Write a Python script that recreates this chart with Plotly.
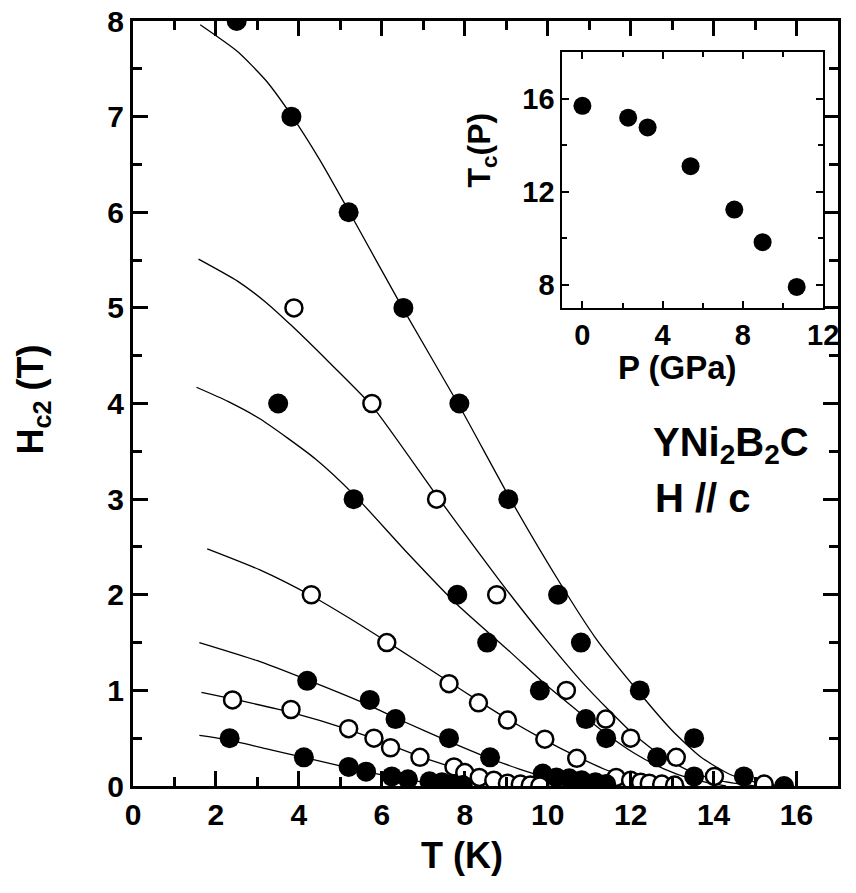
import plotly.graph_objects as go

# ---------------- data ----------------
T1 = [2.5, 3.82, 5.2, 6.52, 7.87, 9.05, 10.25, 10.8, 12.22, 13.53, 14.73, 15.7]
H1 = [8.0, 7.0, 6.0, 5.0, 4.0, 3.0, 2.0, 1.5, 1.0, 0.5, 0.1, 0.0]

T2 = [3.88, 5.76, 7.32, 8.77, 10.45, 11.4, 12.0, 13.1, 14.02, 15.22]
H2 = [5.0, 4.0, 3.0, 2.0, 1.0, 0.7, 0.5, 0.3, 0.1, 0.02]

T3 = [3.5, 5.32, 7.82, 8.54, 9.81, 10.92, 11.41, 12.64, 13.53]
H3 = [4.0, 3.0, 2.0, 1.5, 1.0, 0.7, 0.5, 0.3, 0.1]

T4 = [4.3, 6.12, 7.62, 8.33, 9.03, 9.93, 10.7, 11.65, 12.0, 12.24, 12.45, 12.75, 13.06]
H4 = [2.0, 1.5, 1.07, 0.87, 0.69, 0.49, 0.29, 0.09, 0.06, 0.04, 0.03, 0.02, 0.01]

T5 = [4.2, 5.71, 6.33, 7.62, 8.61, 9.88, 10.21, 10.52, 10.82, 11.15, 11.41]
H5 = [1.1, 0.9, 0.7, 0.5, 0.3, 0.13, 0.09, 0.08, 0.06, 0.04, 0.02]

T6 = [2.4, 3.81, 5.2, 5.81, 6.21, 6.92, 7.74, 8.0, 8.35, 8.7, 9.03, 9.34, 9.58, 9.81]
H6 = [0.9, 0.8, 0.6, 0.5, 0.4, 0.3, 0.2, 0.14, 0.09, 0.06, 0.03, 0.02, 0.01, 0.0]

T7 = [2.33, 4.12, 5.2, 5.62, 6.24, 6.63, 7.15, 7.45, 7.7, 7.95]
H7 = [0.5, 0.3, 0.2, 0.15, 0.1, 0.07, 0.05, 0.04, 0.02, 0.01]

# Fit curves
F1_T = [1.62, 2.52, 3.2, 3.81, 4.5, 5.22, 6.5, 7.9, 9.1, 10.3, 11.15, 12.2, 13.0, 13.7, 14.4, 15.0, 15.6]
F1_H = [7.96, 7.68, 7.38, 7.02, 6.55, 6.0, 5.0, 3.95, 3.0, 2.12, 1.55, 0.98, 0.58, 0.3, 0.12, 0.04, 0.0]

F2_T = [1.58, 2.52, 3.2, 3.81, 4.8, 5.79, 7.3, 8.2, 9.1, 9.98, 10.8, 11.46, 12.1, 12.8, 13.5, 14.2, 15.0]
F2_H = [5.51, 5.28, 5.06, 4.82, 4.4, 3.96, 3.05, 2.52, 2.0, 1.52, 1.1, 0.8, 0.53, 0.3, 0.14, 0.05, 0.0]

F3_T = [1.53, 2.3, 3.06, 4.4, 5.32, 6.59, 7.81, 9.1, 9.9, 10.68, 11.4, 12.1, 12.8, 13.5, 14.3]
F3_H = [4.17, 4.02, 3.84, 3.42, 3.05, 2.45, 1.9, 1.4, 1.08, 0.8, 0.55, 0.34, 0.18, 0.07, 0.0]

F4_T = [1.79, 3.06, 4.3, 5.2, 6.12, 7.62, 8.33, 9.03, 9.93, 10.7, 11.4, 12.1, 12.7, 13.3]
F4_H = [2.48, 2.26, 1.99, 1.76, 1.51, 1.09, 0.89, 0.7, 0.48, 0.31, 0.17, 0.07, 0.02, 0.0]

F5_T = [1.6, 3.0, 4.2, 5.5, 6.5, 7.6, 8.6, 9.3, 9.9, 10.5, 11.2]
F5_H = [1.5, 1.31, 1.11, 0.88, 0.68, 0.47, 0.29, 0.18, 0.1, 0.04, 0.0]

F6_T = [1.65, 2.4, 3.81, 5.2, 6.2, 6.92, 7.74, 8.4, 9.0, 9.8]
F6_H = [0.98, 0.91, 0.77, 0.59, 0.43, 0.31, 0.19, 0.1, 0.04, 0.0]

F7_T = [1.6, 2.33, 3.2, 4.12, 5.2, 6.2, 7.0, 7.9]
F7_H = [0.53, 0.48, 0.39, 0.3, 0.19, 0.1, 0.04, 0.0]

# Inset: Tc vs pressure
P_GPa = [0.0, 2.28, 3.25, 5.39, 7.57, 8.98, 10.68]
Tc_P = [15.7, 15.19, 14.77, 13.1, 11.23, 9.83, 7.9]

# ---------------- figure ----------------
FONT = "Liberation Sans"
fig = go.Figure()

fits = [(F1_T, F1_H), (F2_T, F2_H), (F3_T, F3_H), (F4_T, F4_H),
        (F5_T, F5_H), (F6_T, F6_H), (F7_T, F7_H)]
for ft, fh in fits:
    fig.add_trace(go.Scatter(x=ft, y=fh, mode="lines",
                             line=dict(color="black", width=1.3, shape="spline", smoothing=0.6)))

series = [(T1, H1, True), (T2, H2, False), (T3, H3, True), (T4, H4, False),
          (T5, H5, True), (T6, H6, False), (T7, H7, True)]
for t, h, filled in series:
    if filled:
        mk = dict(symbol="circle", size=20, color="black")
    else:
        mk = dict(symbol="circle", size=17, color="white", line=dict(color="black", width=2.5))
    fig.add_trace(go.Scatter(x=t, y=h, mode="markers", marker=mk))

fig.add_trace(go.Scatter(x=P_GPa, y=Tc_P, mode="markers", xaxis="x2", yaxis="y2",
                         marker=dict(symbol="circle", size=18, color="black")))

# empty traces so the minor-tick overlay axes get drawn
fig.add_trace(go.Scatter(x=[], y=[], xaxis="x3", yaxis="y3"))
fig.add_trace(go.Scatter(x=[], y=[], xaxis="x4", yaxis="y4"))

def tf(size):
    return dict(family=FONT, size=size, color="black", weight=700)

fig.update_layout(
    width=856, height=893, showlegend=False,
    margin=dict(l=133, r=2, t=21, b=107),
    paper_bgcolor="white", plot_bgcolor="white",
    # main axes (major ticks, labels)
    xaxis=dict(range=[0, 17], dtick=2, ticks="inside", ticklen=15, tickwidth=3,
               tickcolor="black", showline=True, linewidth=3, linecolor="black",
               mirror="ticks", gridcolor="white", tickfont=tf(30)),
    yaxis=dict(range=[0, 8], dtick=1, ticks="inside", ticklen=15, tickwidth=3,
               tickcolor="black", showline=True, linewidth=3, linecolor="black",
               mirror="ticks", gridcolor="white", tickfont=tf(30)),
    # main axes (minor ticks)
    xaxis3=dict(overlaying="x", anchor="y", range=[0, 17], dtick=1, ticks="inside", ticklen=9,
                tickwidth=3, tickcolor="black", showticklabels=False, mirror="ticks",
                gridcolor="white"),
    yaxis3=dict(overlaying="y", anchor="x", range=[0, 8], dtick=0.5, ticks="inside", ticklen=9,
                tickwidth=3, tickcolor="black", showticklabels=False, mirror="ticks",
                gridcolor="white"),
    # inset axes
    xaxis2=dict(domain=[0.609, 0.979], anchor="y2", range=[-1, 12], tick0=0, dtick=4,
                ticks="inside", ticklen=7, tickwidth=2, tickcolor="black",
                showline=True, linewidth=2, linecolor="black", mirror="ticks",
                gridcolor="white", tickfont=tf(29)),
    yaxis2=dict(domain=[0.625, 0.959], anchor="x2", range=[7, 18], tick0=0, dtick=4,
                ticks="inside", ticklen=7, tickwidth=2, tickcolor="black",
                showline=True, linewidth=2, linecolor="black", mirror="ticks",
                gridcolor="white", tickfont=tf(29)),
    xaxis4=dict(overlaying="x2", anchor="y2", range=[-1, 12], tick0=0, dtick=2,
                ticks="inside", ticklen=5, tickwidth=2, tickcolor="black",
                showticklabels=False, mirror="ticks", gridcolor="white"),
    yaxis4=dict(overlaying="y2", anchor="x2", range=[7, 18], tick0=0, dtick=2,
                ticks="inside", ticklen=5, tickwidth=2, tickcolor="black",
                showticklabels=False, mirror="ticks", gridcolor="white"),
)

def ann(text, x, y, size, angle=0, xanchor="center"):
    fig.add_annotation(text=text, x=x, y=y, xref="paper", yref="paper", showarrow=False,
                       textangle=angle, xanchor=xanchor, yanchor="middle",
                       font=tf(size))

ann("T (K)", 0.467, -0.091, 36)
ann("H<sub>c2</sub> (T)", -0.142, 0.505, 36, angle=-90)
ann("YNi<sub>2</sub>B<sub>2</sub>C", 0.735, 0.446, 40, xanchor="left")
ann("H // c", 0.737, 0.376, 40, xanchor="left")
ann("T<sub>c</sub>(P)", 0.495, 0.832, 32, angle=-90)
ann("P (GPa)", 0.7725, 0.547, 33)

fig.write_html("out.html")
